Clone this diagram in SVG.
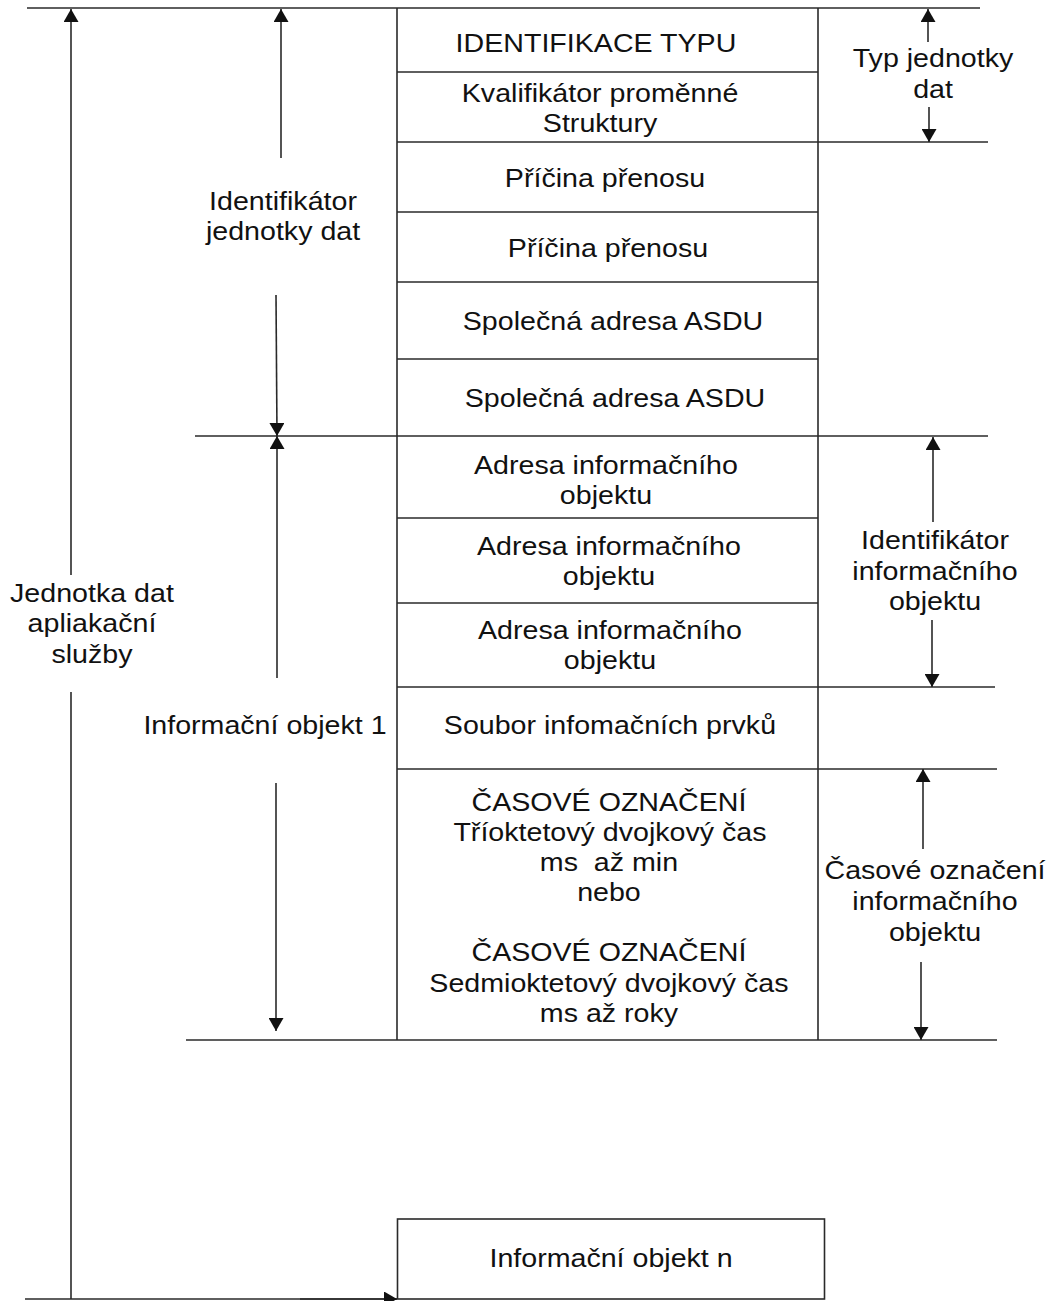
<svg xmlns="http://www.w3.org/2000/svg" width="1051" height="1301" viewBox="0 0 1051 1301">
<defs>
<marker id="ah" viewBox="0 0 13 15" refX="13" refY="7.5" markerWidth="13" markerHeight="15" orient="auto" markerUnits="userSpaceOnUse"><path d="M0,0 L13,7.5 L0,15 z" fill="#111"/></marker>
<style>
.ln{stroke:#2a2a2a;stroke-width:1.6;fill:none}
.ar{stroke:#2a2a2a;stroke-width:1.6;fill:none;marker-end:url(#ah)}
text{font-family:"Liberation Sans",Arial,sans-serif;font-size:26px;fill:#111;text-anchor:middle}
</style>
</defs>
<rect width="1051" height="1301" fill="#fff"/>
<g id="table">
<line class="ln" x1="27" y1="8" x2="980" y2="8"/>
<line class="ln" x1="397" y1="8" x2="397" y2="1040"/>
<line class="ln" x1="818" y1="8" x2="818" y2="1040"/>
<line class="ln" x1="397" y1="72" x2="818" y2="72"/>
<line class="ln" x1="397" y1="142" x2="988" y2="142"/>
<line class="ln" x1="397" y1="212" x2="818" y2="212"/>
<line class="ln" x1="397" y1="282" x2="818" y2="282"/>
<line class="ln" x1="397" y1="359" x2="818" y2="359"/>
<line class="ln" x1="195" y1="436" x2="988" y2="436"/>
<line class="ln" x1="397" y1="518" x2="818" y2="518"/>
<line class="ln" x1="397" y1="603" x2="818" y2="603"/>
<line class="ln" x1="397" y1="687" x2="995" y2="687"/>
<line class="ln" x1="397" y1="769" x2="997" y2="769"/>
<line class="ln" x1="186" y1="1040" x2="997" y2="1040"/>
</g>
<g id="objn">
<rect class="ln" x="397.5" y="1219" width="427" height="80"/>
</g>
<g id="connectors">
<line class="ar" x1="71" y1="575" x2="71" y2="9"/>
<line class="ln" x1="71" y1="692" x2="71" y2="1299"/>
<line class="ln" x1="25" y1="1299" x2="397" y2="1299"/>
<line class="ar" x1="300" y1="1299" x2="397" y2="1299"/>
<line class="ar" x1="281" y1="158" x2="281" y2="9"/>
<line class="ar" x1="276" y1="295" x2="277" y2="436"/>
<line class="ar" x1="277" y1="678" x2="277" y2="436"/>
<line class="ar" x1="276" y1="783" x2="276" y2="1031"/>
<line class="ar" x1="928" y1="42" x2="928" y2="9"/>
<line class="ar" x1="929" y1="107" x2="929" y2="142"/>
<line class="ar" x1="933" y1="522" x2="933" y2="437"/>
<line class="ar" x1="932" y1="620" x2="932" y2="687"/>
<line class="ar" x1="923" y1="849" x2="923" y2="769"/>
<line class="ar" x1="921" y1="962" x2="921" y2="1040"/>
</g>
<g id="labels" transform="scale(1.1 1)">
<text x="541.8" y="52">IDENTIFIKACE TYPU</text>
<text x="545.5" y="102">Kvalifikátor proměnné</text>
<text x="545.5" y="132">Struktury</text>
<text x="550" y="187">Příčina přenosu</text>
<text x="552.7" y="257">Příčina přenosu</text>
<text x="557.3" y="330">Společná adresa ASDU</text>
<text x="559.1" y="407">Společná adresa ASDU</text>
<text x="550.9" y="474">Adresa informačního</text>
<text x="550.9" y="504">objektu</text>
<text x="553.6" y="555">Adresa informačního</text>
<text x="553.6" y="585">objektu</text>
<text x="554.5" y="639">Adresa informačního</text>
<text x="554.5" y="669">objektu</text>
<text x="554.5" y="734">Soubor infomačních prvků</text>
<text x="553.6" y="811">ČASOVÉ OZNAČENÍ</text>
<text x="554.5" y="841">Tříoktetový dvojkový čas</text>
<text x="553.6" y="871" xml:space="preserve">ms  až min</text>
<text x="553.6" y="901">nebo</text>
<text x="553.6" y="961">ČASOVÉ OZNAČENÍ</text>
<text x="553.6" y="992">Sedmioktetový dvojkový čas</text>
<text x="553.6" y="1022">ms až roky</text>
<text x="555.5" y="1267">Informační objekt n</text>
<text x="257.3" y="210">Identifikátor</text>
<text x="257.3" y="240">jednotky dat</text>
<text x="83.6" y="602">Jednotka dat</text>
<text x="83.6" y="632">apliakační</text>
<text x="83.6" y="663">služby</text>
<text x="240.9" y="734">Informační objekt 1</text>
<text x="848.2" y="67">Typ jednotky</text>
<text x="848.2" y="98">dat</text>
<text x="850" y="549">Identifikátor</text>
<text x="850" y="580">informačního</text>
<text x="850" y="610">objektu</text>
<text x="850" y="879">Časové označení</text>
<text x="850" y="910">informačního</text>
<text x="850" y="941">objektu</text>
</g>
</svg>
